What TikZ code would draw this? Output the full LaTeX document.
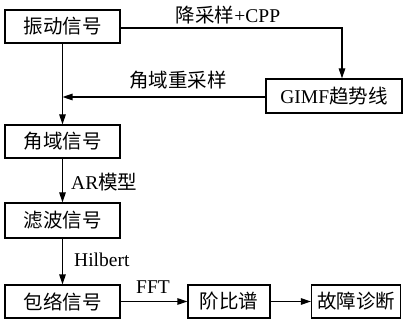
\documentclass[tikz,border=0pt]{standalone}
\usepackage{fontspec}
\setmainfont{Liberation Serif}
\newfontfamily\cjk{Noto Sans CJK SC}
\usetikzlibrary{arrows.meta}
\begin{document}
\begin{tikzpicture}[x=1pt,y=-1pt,
  box/.style={draw,line width=1.2pt,inner sep=0pt,minimum height=33pt,font=\fontsize{19.5}{21}\selectfont},
  conn/.style={line width=1.2pt,-{Triangle[length=10pt,width=6.5pt]}},
  lab/.style={font=\fontsize{19.5}{21}\selectfont,inner sep=0pt}]
\useasboundingbox (0,0) rectangle (404,323);
\node[box,minimum width=115pt] (vib) at (62.5,26.5) {\cjk 振动信号};
\node[box,minimum width=136pt,minimum height=34pt] (gimf) at (334,96) {GIMF{\cjk 趋势线}};
\node[box,minimum width=115pt] (ang) at (62.5,141.5) {\cjk 角域信号};
\node[box,minimum width=115pt,minimum height=35pt] (filt) at (62.5,220.5) {\cjk 滤波信号};
\node[box,minimum width=115pt] (env) at (62.5,301.5) {\cjk 包络信号};
\node[box,minimum width=82pt] (ord) at (229,301.5) {\cjk 阶比谱};
\node[box,minimum width=89pt] (diag) at (356,301.5) {\cjk 故障诊断};
\coordinate (c1) at (342,28);
\coordinate (j1) at (62.5,97);
\draw[conn] (vib.east |- c1) -- (c1) -- (gimf.north -| c1);
\node[lab] (l1) at (228,15) {{\cjk 降采样}+CPP};
\draw[conn] (gimf.west |- j1) -- (j1);
\node[lab] (l2) at (178,80) {\cjk 角域重采样};
\draw[conn] (vib.south) -- (ang.north);
\draw[conn] (ang.south) -- (filt.north);
\node[lab,anchor=west] (l3) at (71,182) {AR{\cjk 模型}};
\draw[conn] (filt.south) -- (env.north);
\node[lab,anchor=west] (l4) at (74,260) {Hilbert};
\draw[conn] (env.east) -- (ord.west);
\node[lab] (l5) at (153,287) {FFT};
\draw[conn] (ord.east) -- (diag.west);
\end{tikzpicture}
\end{document}
